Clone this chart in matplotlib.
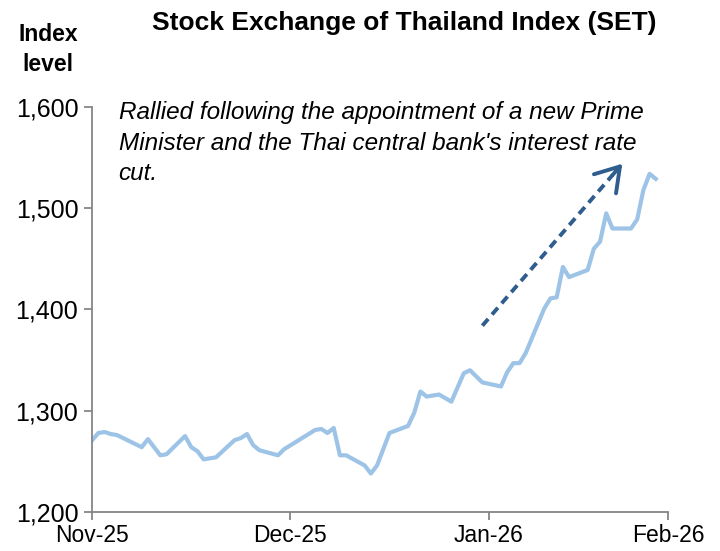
import matplotlib
matplotlib.use("Agg")
import matplotlib.pyplot as plt

plt.rcParams['font.family'] = ['Liberation Sans', 'DejaVu Sans']

# trading-day position on the category axis and SET index level
day_pos = [0, 1, 2, 3, 4, 8, 9, 11, 12, 15, 16, 17, 18, 20, 23, 24, 25, 26, 27,
           30, 31, 36, 37, 38, 39, 40, 41, 44, 45, 46, 48, 51, 52, 53, 54, 56,
           58, 60, 61, 63, 66, 67, 68, 69, 70, 73, 74, 75, 76, 77, 80, 81, 82,
           83, 84, 87, 88, 89, 90, 91]
set_index = [1271, 1278, 1279, 1277, 1276, 1264, 1272, 1256, 1257, 1275, 1264,
             1260, 1252, 1254, 1271, 1273, 1277, 1266, 1261, 1256, 1262, 1281,
             1282, 1278, 1283, 1256, 1256, 1246, 1238, 1246, 1278, 1285, 1298,
             1319, 1314, 1316, 1309, 1337, 1340, 1328, 1324, 1338, 1347, 1347,
             1357, 1401, 1411, 1412, 1442, 1432, 1439, 1460, 1467, 1495, 1480,
             1480, 1489, 1518, 1534, 1529]

month_pos = [0, 32, 64, 93]
month_labels = ["Nov-25", "Dec-25", "Jan-26", "Feb-26"]
y_ticks = [1200, 1300, 1400, 1500, 1600]

arrow_start = (63, 1384)
arrow_end = (85.6, 1544)

fig = plt.figure(figsize=(7.2, 5.51), dpi=100)
ax = fig.add_axes([0.128, 0.0708, 0.8, 0.735])

ax.plot(day_pos, set_index, color='#9DC3E6', linewidth=3.0, solid_joinstyle='round')

ax.set_xlim(month_pos[0], month_pos[-1])
ax.set_ylim(y_ticks[0], y_ticks[-1])
ax.set_xticks(month_pos)
ax.set_xticklabels(month_labels, fontsize=16.5)
ax.set_yticks(y_ticks)
ax.set_yticklabels([f"{v:,}" for v in y_ticks], fontsize=18)

for side in ['top', 'right']:
    ax.spines[side].set_visible(False)
for side in ['left', 'bottom']:
    ax.spines[side].set_color('#868686')
    ax.spines[side].set_linewidth(1.3)
ax.tick_params(axis='both', colors='#868686', width=1.3, length=6,
               labelcolor='black')
ax.tick_params(axis='y', pad=4)
ax.tick_params(axis='x', pad=3)

# dashed trend arrow: dashed shaft plus a solid open head
frac = 0.93
shaft_end = (arrow_start[0] + frac * (arrow_end[0] - arrow_start[0]),
             arrow_start[1] + frac * (arrow_end[1] - arrow_start[1]))
ax.plot([arrow_start[0], shaft_end[0]], [arrow_start[1], shaft_end[1]],
        color='#2F5D8E', lw=2.8, dashes=(2.3, 1.5))
ax.annotate("", xy=arrow_end, xytext=shaft_end,
            arrowprops=dict(arrowstyle='->,head_length=0.55,head_width=0.35',
                            color='#2F5D8E', lw=2.8, mutation_scale=30,
                            shrinkA=0, shrinkB=0))

ax.text(0.046, 1.014,
        "Rallied following the appointment of a new Prime\n"
        "Minister and the Thai central bank's interest rate\ncut.",
        transform=ax.transAxes, fontsize=17.5, style='italic', va='top',
        ha='left', linespacing=1.42)

fig.text(0.561, 0.958, "Stock Exchange of Thailand Index (SET)", fontsize=19,
         fontweight='bold', ha='center', va='center')
fig.text(0.067, 0.91, "Index\nlevel", fontsize=16.5, fontweight='bold',
         ha='center', va='center', linespacing=1.35)

fig.savefig("out.png", dpi=100)
